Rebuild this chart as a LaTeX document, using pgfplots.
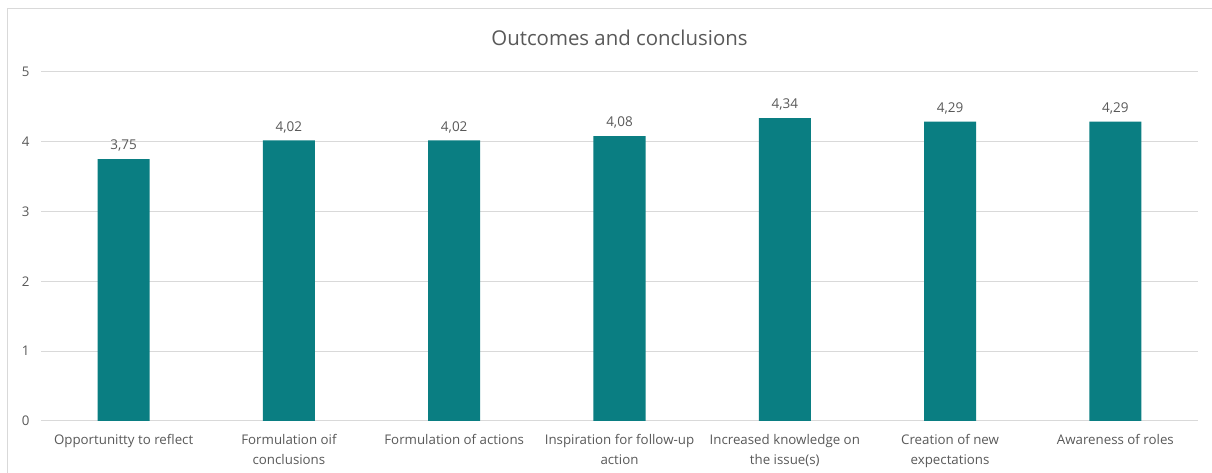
\documentclass[border=0pt]{standalone}
\usepackage{pgfplots}
\pgfplotsset{compat=1.18}
\usepackage{fontspec}
\setmainfont{Open Sans}
\definecolor{barc}{RGB}{10,126,130}
\definecolor{gridc}{RGB}{217,217,217}
\definecolor{txt}{RGB}{89,89,89}
\definecolor{framec}{RGB}{217,217,217}
\begin{document}
\begin{tikzpicture}[x=1pt,y=1pt]
\useasboundingbox (0,0) rectangle (1212,473);
\fill[white] (0,0) rectangle (1212,473);
\draw[framec, line width=1pt] (7,-20) -- (7,464) -- (1240,464);
\begin{axis}[
  at={(41pt,52pt)}, anchor=south west,
  scale only axis, width=1157pt, height=349pt,
  xmin=-0.5, xmax=6.5, ymin=0, ymax=5,
  ytick={0,1,2,3,4,5},
  xtick=data,
  xticklabels={Opportunitty to reflect, Formulation oif\\conclusions, Formulation of actions, Inspiration for follow-up\\action, Increased knowledge on\\the issue(s), Creation of new\\expectations, Awareness of roles},
  xticklabel style={align=center, font=\fontsize{13.3}{19.5}\selectfont, text=txt, yshift=-6pt},
  yticklabel style={font=\fontsize{13.3}{16}\selectfont, text=txt, xshift=-8pt},
  /pgf/number format/assume math mode=true,
  axis line style={draw=none},
  axis x line*=bottom,
  x axis line style={draw=gridc, line width=1pt},
  tick style={draw=none},
  ymajorgrids, grid style={gridc, line width=1pt},
  title={Outcomes and conclusions},
  title style={font=\fontsize{20.4}{24}\selectfont, text=txt, at={(0.5,1)}, yshift=17pt},
  ybar, bar width=52pt,
  nodes near coords,
  nodes near coords style={font=\fontsize{13.5}{16}\selectfont, text=txt, yshift=4pt, /pgf/number format/fixed, /pgf/number format/fixed zerofill, /pgf/number format/precision=2, /pgf/number format/use comma},
  enlarge x limits=false,
  clip=false,
]
\addplot[fill=barc, draw=none] coordinates {(0,3.75) (1,4.02) (2,4.02) (3,4.08) (4,4.34) (5,4.29) (6,4.29)};
\end{axis}
\end{tikzpicture}
\end{document}
